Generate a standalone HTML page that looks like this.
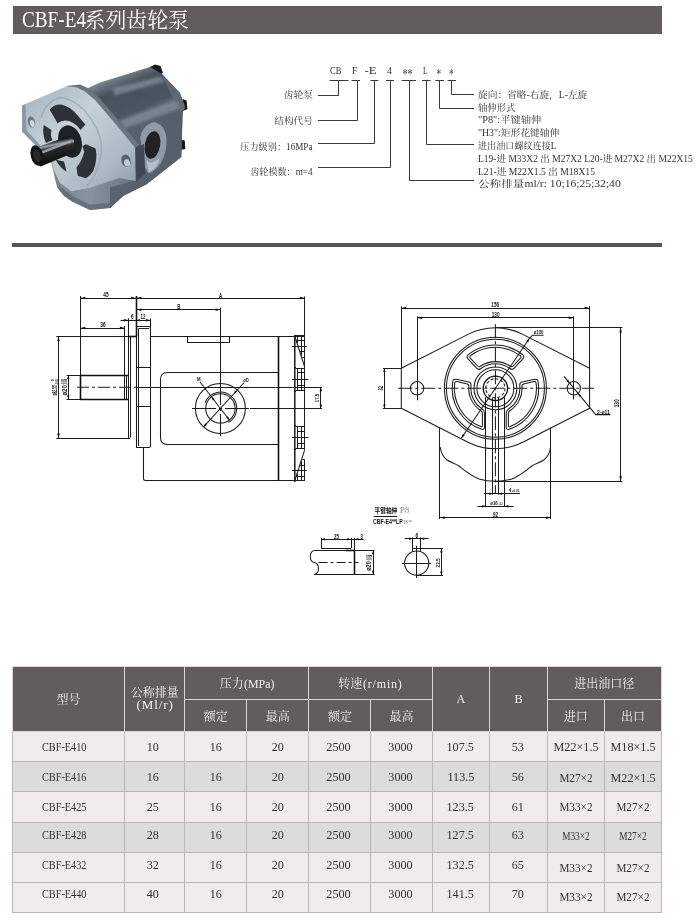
<!DOCTYPE html>
<html lang="zh-CN">
<head>
<meta charset="utf-8">
<title>CBF-E4系列齿轮泵</title>
<style>
html,body{margin:0;padding:0;background:#fff;}
body{width:700px;height:922px;position:relative;overflow:hidden;
  font-family:"Liberation Serif","Noto Serif CJK SC",serif;color:#333;}
.titlebar{position:absolute;left:13px;top:6px;width:649px;height:28px;background:#625d5c;}
.titlebar h1{will-change:transform;margin:0;position:absolute;left:9.4px;top:0.4px;height:28px;line-height:28px;
  font-size:20.9px;font-weight:normal;color:#fff;white-space:nowrap;transform-origin:0 50%;}
.titlebar h1 .la{display:inline-block;font-size:22.6px;line-height:28px;vertical-align:baseline;transform:scaleX(.85);transform-origin:0 50%;margin-right:-12.8px}
.sep{position:absolute;left:12px;top:243px;width:650px;height:4px;background:#5a5555;}
svg{position:absolute;left:0;top:0;will-change:transform;}
#callout text{font-family:"Liberation Serif","Noto Serif CJK SC",serif;}
#draw text{font-family:"Liberation Sans","Noto Sans CJK SC",sans-serif;}
#spec{will-change:transform;position:absolute;left:12px;top:666px;width:650px;border-collapse:collapse;table-layout:fixed;
  font-size:12px;color:#333;}
#spec th,#spec td{padding:0;text-align:center;vertical-align:middle;border:1px solid #b9b6b5;overflow:hidden;white-space:nowrap}
#spec th{background:#625d5c;color:#f2f0ef;font-weight:normal;border-color:#d9d6d5;}
#spec td{height:27.7px;background:#efeceb;}
#spec tr.g td{background:#dcdcdc;}
#spec .n{display:inline-block;font-size:13.5px;transform:translateY(var(--dy,0px)) scaleX(.9);}
#spec .m{display:inline-block;font-size:13.5px;transform:translateY(var(--dy,0px)) scaleX(.76);}
#spec .q{display:inline-block;font-size:13px;letter-spacing:.9px;margin-left:1px}
#spec .x{display:inline-block;font-size:13.5px;transform:translateY(var(--dx,0px)) scaleX(.9);}
#spec .x3{display:inline-block;font-size:13.5px;transform:translateY(var(--dx,0px)) scaleX(.83);}
#spec .x2{display:inline-block;font-size:13.5px;transform:translateY(var(--dx,0px)) scaleX(.69);}
#spec td{padding-top:1.5px}
#spec tbody tr:nth-child(2){--dy:-1.3px}
#spec tbody tr:nth-child(3){--dy:-1.4px;--dx:-.8px}
#spec tbody tr:nth-child(4){--dy:-2.6px;--dx:-1.7px}
#spec tbody tr:nth-child(5){--dy:-3.2px;--dx:.3px}
#spec tbody tr:nth-child(6){--dy:-4.2px;--dx:-1.3px}
#spec td:nth-child(1){padding-right:8px}
#spec td:nth-child(2),#spec td:nth-child(5),#spec td:nth-child(6){padding-right:3px}
#spec .p{display:inline-block;font-size:13px;transform:scaleX(.92);transform-origin:0 50%;margin-right:-3px}
</style>
</head>
<body>
<div class="titlebar"><h1><span class="la">CBF-E4</span>系列齿轮泵</h1></div>
<div class="sep"></div>


<svg id="photo" width="700" height="922" viewBox="0 0 700 922">
<defs>
<filter id="pb" x="-5%" y="-5%" width="110%" height="110%"><feGaussianBlur stdDeviation="0.75"/></filter>
<filter id="pb2" x="-20%" y="-20%" width="140%" height="140%"><feGaussianBlur stdDeviation="1.8"/></filter>
<linearGradient id="gBody" x1="0" y1="0" x2="0.3" y2="1">
<stop offset="0" stop-color="#6a7680"/><stop offset="0.13" stop-color="#7f8c97"/><stop offset="0.24" stop-color="#46505a"/><stop offset="0.42" stop-color="#4b555f"/><stop offset="0.5" stop-color="#75828d"/><stop offset="0.6" stop-color="#505a64"/><stop offset="1" stop-color="#545e68"/>
</linearGradient>
<linearGradient id="gFl" x1="0" y1="0" x2="1" y2="1">
<stop offset="0" stop-color="#a3b2bc"/><stop offset="0.4" stop-color="#c6d1d8"/><stop offset="0.75" stop-color="#aebbc4"/><stop offset="1" stop-color="#8f9da8"/>
</linearGradient>
<linearGradient id="gLow" x1="0" y1="0" x2="1" y2="0">
<stop offset="0" stop-color="#77838d"/><stop offset="0.45" stop-color="#87949e"/><stop offset="0.45" stop-color="#87949e"/><stop offset="1" stop-color="#66717b"/>
</linearGradient>
<linearGradient id="gSh" x1="0" y1="0" x2="0.28" y2="1">
<stop offset="0" stop-color="#0c0d10"/><stop offset="0.3" stop-color="#1b1d22"/><stop offset="0.41" stop-color="#9aa1a8"/><stop offset="0.5" stop-color="#2a2c31"/><stop offset="1" stop-color="#07080a"/>
</linearGradient>
</defs>
<g filter="url(#pb)">
<!-- rear bolt heads -->
<path d="M149 67.5 L155 64.5 L160.5 66 L163 73 L156 76 Z" fill="#15171b"/>
<path d="M182.5 99 L186.5 100.5 L187.5 109 L183 111 Z" fill="#15171b"/>
<path d="M180.5 139.5 L184.8 140.5 L185.3 149 L180.5 150 Z" fill="#15171b"/>
<!-- main body -->
<path d="M86 89 L100 82.5 L150 67 L161.5 73.5 L180 93 L185 107 L182.6 113 L181.3 157 L147 184 L123 196 L110 208 L100 180 Z" fill="url(#gBody)"/>
<path d="M112 88.5 L160 76.5 L166 81 L115 95.5 Z" fill="#93a0ab" opacity=".6" filter="url(#pb2)"/>
<path d="M161.5 73.5 L180 93 L185 107 L182.6 113 L176 104 L166 84 Z" fill="#5f6a74" opacity=".9"/>
<!-- port face -->
<path d="M118 124 L176 104.5 L182.6 113 L181.3 157 L147 184 L123 196 L110 208 Z" fill="#57616b"/>
<path d="M120 121.5 L176.5 101.5 L179.5 108 L124 128 Z" fill="#86939d" opacity="0"/>
<path d="M120 121 L176.5 101 L179.5 108 L124 128 Z" fill="#85929c" opacity="0"/>
<path d="M120 121 L176.5 101 L179.5 108.5 L124 128.5 Z" fill="#7f8c97" opacity=".8" filter="url(#pb2)"/>
<!-- port boss -->
<path d="M140.2 137.6 Q143 124 155 122 Q166 126 166.6 139 Q167 152 161.4 162 Q156 171 148.6 173.5 L144.7 167 Z" fill="#8e9ba5"/>
<ellipse cx="152.5" cy="145" rx="7.7" ry="14" fill="#202328" transform="rotate(10 152.5 145)"/>
<path d="M146.5 160 Q151 166 159.5 158 Q158 168 148.8 172.5 Z" fill="#b3c1ca"/>
<!-- lower body -->
<path d="M52 166 L57 187 L64 196 L72 201.5 L90 210 L110 208 L123 196 L136 186 L136 178 L119 177 L91 187 L71 191 Z" fill="url(#gLow)"/>
<path d="M110 187.5 L136 180 L136 186 L123 196 L110 208 Z" fill="#59636d"/>
<path d="M57 187 L64 196 L72 201.5 L90 210 L110 208 L110 203 L90 204.5 L74 197 L62 188 Z" fill="#5f6973" opacity=".8"/>
<!-- flange thickness side -->
<path d="M135 147.8 L144 144 L145.3 173.5 L135.7 182.5 Z" fill="#404953"/>
<!-- flange bevel (dark rim behind face) -->
<path d="M66 86 L80 84.6 L89 88.5 L98.5 97 L139 144.5 L135 148 L95 101 L85 92.5 L76 90 Z" fill="#687680"/>
<!-- flange face -->
<path d="M22 105.5 L66.5 86.3 L77 87.5 L85 91.5 L95.5 100.5 L116 124.5 L135.1 147.8 L135.7 181 L119 178 L91.4 187.5 L71 191 L60 183 L53.4 169.4 L50 160 L22 131.5 Z" fill="url(#gFl)"/>
<path d="M22 105.5 L25.5 104 L26.5 130 L50.5 157 L54 169.4 L50 160 L22 131.5 Z" fill="#8c9aa5"/>
<!-- boss ring shading -->
<path d="M41 118 Q46 101 60 97.5 Q72 98 84 110 Q100 128 101.5 146 Q101 170 87 186" fill="none" stroke="#94a3ad" stroke-width="1.4" opacity=".7"/>
<!-- ear holes -->
<ellipse cx="31.5" cy="122" rx="3.6" ry="5.6" fill="#6d7a84" transform="rotate(-15 31.5 122)"/>
<ellipse cx="32.3" cy="123.6" rx="2.2" ry="3.6" fill="#ccd6dc" transform="rotate(-15 32.3 123.6)"/>
<ellipse cx="126" cy="160.7" rx="4.6" ry="6.2" fill="#55616b" transform="rotate(-15 126 160.7)"/>
<ellipse cx="127" cy="162.8" rx="3" ry="3.8" fill="#bcc8d0" transform="rotate(-15 127 162.8)"/>
<!-- slots -->
<path d="M49.7 109.7 Q54 104 61 104.5 Q71 106.5 77.7 115.6 L85.4 124.6 L80.5 130 Q76 123.5 69 121 Q62 119.5 57.5 123.5 L55.6 119.8 Z" fill="#2d3238"/>
<path d="M43.7 125 L51.5 129.9 Q50 136 52.6 140 L46 143 Q42 134 43.7 125 Z" fill="#2b3036"/>
<path d="M55.6 159.7 L64 161.5 L66.5 171.5 Q61 169 55.6 159.7 Z" fill="#2b3036"/>
<path d="M86 144.2 L95.6 148.4 Q98 159 93.2 171 Q90 176 86 178.2 L77.7 175.8 L76.5 167.5 Q82 161 84.2 152 L82.4 146 Z" fill="#2d3238"/>
<!-- hub hole -->
<ellipse cx="70" cy="141.5" rx="11.5" ry="16.5" fill="#1d2025" transform="rotate(-16 70 141.5)"/>
<!-- shaft -->
<path d="M33.6 148.4 L69.5 135.7 L74 140 L74.5 152 L69.3 154.6 L40.7 166.5 L32 160 Z" fill="url(#gSh)"/>
<path d="M42 151 L70.5 140.3 L71 142.6 L42.6 153.6 Z" fill="#a4abb2" opacity=".9"/>
<ellipse cx="36.8" cy="155.5" rx="6" ry="10.5" fill="#111215" transform="rotate(-14 36.8 155.5)"/>
<ellipse cx="37" cy="155.8" rx="3.4" ry="7" fill="#26292e" transform="rotate(-14 37 155.8)"/>
</g>
</svg>

<svg id="callout" width="700" height="922" viewBox="0 0 700 922">
<g fill="none" stroke="#3a3a3a" stroke-width="1">
<path d="M329.5 80.5 L348.5 80.5"/>
<path d="M351.5 80.5 L360 80.5"/>
<path d="M370.5 80.5 L378.5 80.5"/>
<path d="M386 80.5 L394 80.5"/>
<path d="M401.5 80.5 L416 80.5"/>
<path d="M422 80.5 L430.5 80.5"/>
<path d="M435.5 80.5 L444 80.5"/>
<path d="M447.5 80.5 L456 80.5"/>
<path d="M338.5 80.5 L338.5 95.5 L318 95.5"/>
<path d="M357.5 80.5 L357.5 120.5 L318 120.5"/>
<path d="M374.5 80.5 L374.5 143.5 L318 143.5"/>
<path d="M390.5 80.5 L390.5 167.5 L318 167.5"/>
<path d="M451.5 80.5 L451.5 94.5 L474 94.5"/>
<path d="M439.5 80.5 L439.5 108.5 L474 108.5"/>
<path d="M426.5 80.5 L426.5 144.5 L474 144.5"/>
<path d="M409.5 80.5 L409.5 180.5 L474 180.5"/>
</g>
<g fill="#333" xml:space="preserve">
<text x="330" y="74.488" font-size="10.8" textLength="11.4" lengthAdjust="spacingAndGlyphs">CB</text>
<text x="352" y="74.488" font-size="10.8" textLength="5.5" lengthAdjust="spacingAndGlyphs">F</text>
<text x="364.5" y="74.488" font-size="10.8" textLength="12.2" lengthAdjust="spacingAndGlyphs">-E</text>
<text x="387" y="74.488" font-size="10.8" textLength="5" lengthAdjust="spacingAndGlyphs">4</text>
<text x="423" y="74.488" font-size="10.8" textLength="4.6" lengthAdjust="spacingAndGlyphs">L</text>
<text x="402.5" y="78.84" font-size="14" textLength="10.1" lengthAdjust="spacingAndGlyphs">**</text>
<text x="436.4" y="78.84" font-size="14" textLength="4.6" lengthAdjust="spacingAndGlyphs">*</text>
<text x="449" y="78.84" font-size="14" textLength="4.5" lengthAdjust="spacingAndGlyphs">*</text>
<text x="283.7" y="98.12" font-size="9.5" textLength="29.3" lengthAdjust="spacingAndGlyphs">齿轮泵</text>
<text x="274.2" y="123.72" font-size="9.5" textLength="38.8" lengthAdjust="spacingAndGlyphs">结构代号</text>
<text x="240.3" y="149.52" font-size="9.5" textLength="72.2" lengthAdjust="spacingAndGlyphs">压力级别：16MPa</text>
<text x="250.2" y="175.02" font-size="9.5" textLength="62.3" lengthAdjust="spacingAndGlyphs">齿轮模数：m=4</text>
<text x="478" y="97.72" font-size="9.5" textLength="109.3" lengthAdjust="spacingAndGlyphs">旋向：省略-右旋，L-左旋</text>
<text x="478" y="110.52" font-size="9.5" textLength="37.5" lengthAdjust="spacingAndGlyphs">轴伸形式</text>
<text x="478" y="123.32" font-size="9.5" textLength="63.4" lengthAdjust="spacingAndGlyphs">"P8":平键轴伸</text>
<text x="478" y="136.12" font-size="9.5" textLength="81.4" lengthAdjust="spacingAndGlyphs">"H3":矩形花键轴伸</text>
<text x="478" y="148.92" font-size="9.5" textLength="78.4" lengthAdjust="spacingAndGlyphs">进出油口螺纹连接L</text>
<text x="478" y="161.72" font-size="9.5" textLength="214.8" lengthAdjust="spacingAndGlyphs">L19-进 M33X2 出 M27X2  L20-进 M27X2 出 M22X15</text>
<text x="478" y="174.52" font-size="9.5" textLength="117" lengthAdjust="spacingAndGlyphs">L21-进 M22X1.5 出 M18X15</text>
<text x="478" y="187.32" font-size="9.5" textLength="142.7" lengthAdjust="spacingAndGlyphs">公称排量ml/r: 10;16;25;32;40</text>
</g>
</svg>

<svg id="draw" width="700" height="922" viewBox="0 0 700 922">
<g fill="none" stroke="#1c1c1c" stroke-width="1.05" stroke-linecap="butt" stroke-linejoin="round">
<path d="M80.3 298.5 L304.9 298.5"/>
<path d="M80.5 296.0 L80.5 375.4"/>
<path d="M304.5 296.5 L304.5 336.3"/>
<path d="M136.0 309.5 L220.6 309.5"/>
<path d="M220.5 307.7 L220.5 383.0"/>
<path d="M120.6 320.5 L150.8 320.5"/>
<path d="M128.5 318.4 L128.5 336.4"/>
<path d="M150.5 318.4 L150.5 328.0"/>
<path d="M80.3 328.5 L124.9 328.5"/>
<path d="M124.5 326.0 L124.5 375.4"/>
<path d="M58.5 336.2 L58.5 438.4"/>
<path d="M56.3 336.5 L129.0 336.5"/>
<path d="M56.3 438.5 L130.0 438.5"/>
<path d="M68.5 375.4 L68.5 399.1"/>
<path d="M66.6 375.5 L81.0 375.5"/>
<path d="M66.6 399.5 L81.0 399.5"/>
<path d="M124.5 375.4 L124.5 399.1"/>
<path d="M126.5 375.4 L126.5 399.1"/>
<path d="M136.0 387.5 L322.0 387.5"/>
<path d="M128.5 336.3 L128.5 438.4"/>
<path d="M130.5 337.0 L130.5 437.5"/>
<path d="M136.5 326.5 L149 326.5 Q150.5 326.5 150.5 328 L150.5 446 Q150.5 447.5 149 447.5 L136.5 447.5 Z"/>
<path d="M138.5 328.5 L149.0 328.5"/>
<path d="M136.5 367.5 L150.5 367.5"/>
<path d="M136.5 406.5 L150.5 406.5"/>
<path d="M138.5 328.5 L138.5 446.0"/>
<path d="M150.8 336.5 L294.2 336.5"/>
<path d="M143.5 447.5 L143.5 478.5 Q143.5 480.5 145.5 480.5 L294.5 480.5"/>
<path d="M187.5 336.5 L187.5 342.5 L229.5 342.5 L229.5 336.5"/>
<path d="M278.5 372.5 L167.5 372.5 Q160.5 372.5 160.5 379.5 L160.5 437.5 Q160.5 444.5 167.5 444.5 L278.5 444.5"/>
<circle cx="220.4" cy="408.4" r="25.0"/>
<circle cx="220.4" cy="408.4" r="14.7"/>
<path d="M205.1 402.8 A16.3 16.3 0 1 1 228.6 422.5"/>
<path d="M250.0 408.5 L322.0 408.5"/>
<path d="M199.8 381.8 L229.4 420.0"/>
<path d="M244.2 382.5 L203.5 426.8"/>
<path d="M294.8 482 L294.8 335" stroke-width="1.5"/>
<path d="M304.5 336.4 L304.5 450.3"/>
<path d="M304.5 459.7 L304.5 481.0"/>
<path d="M294.2 336.5 L304.5 336.5"/>
<path d="M295.5 368.5 L304.5 368.5"/>
<path d="M295.5 390.5 L304.5 390.5"/>
<path d="M297.7 372.5 L304.5 372.5"/>
<path d="M297.7 385.5 L304.5 385.5"/>
<path d="M297.5 368.0 L297.5 390.6"/>
<path d="M301.5 368.0 L301.5 390.6"/>
<path d="M291.8 379.5 L308.4 379.5"/>
<path d="M294.5 367.5 L296.0 367.5"/>
<path d="M294.5 391.5 L296.0 391.5"/>
<path d="M295.5 426.5 L304.5 426.5"/>
<path d="M295.5 448.5 L304.5 448.5"/>
<path d="M297.7 431.5 L304.5 431.5"/>
<path d="M297.7 443.5 L304.5 443.5"/>
<path d="M297.5 426.2 L297.5 448.8"/>
<path d="M301.5 426.2 L301.5 448.8"/>
<path d="M291.8 437.5 L308.4 437.5"/>
<path d="M294.5 425.5 L296.0 425.5"/>
<path d="M294.5 449.5 L296.0 449.5"/>
<path d="M304.5 450.3 L294.9 480.3"/>
<path d="M299.7 465.5 L304.5 465.5"/>
<path d="M296.3 476.5 L304.5 476.5"/>
<path d="M294.7 480.5 L304.5 480.5"/>
<path d="M302.3 459.5 L304.5 459.5"/>
<path d="M301.5 461.0 L301.5 481.0"/>
<path d="M297.5 473.5 L297.5 481.0"/>
<path d="M292.0 470.5 L306.6 470.5"/>
<path d="M304.5 366.5 L294.9 336.5"/>
<path d="M299.7 351.5 L304.5 351.5"/>
<path d="M296.3 340.5 L304.5 340.5"/>
<path d="M294.7 335.5 L304.5 335.5"/>
<path d="M302.3 357.5 L304.5 357.5"/>
<path d="M301.5 355.8 L301.5 335.8"/>
<path d="M297.5 343.3 L297.5 335.8"/>
<path d="M292.0 346.5 L306.6 346.5"/>
<path d="M320.5 387.2 L320.5 408.4"/>
<path d="M401.3 368.3 L468.0 334.4 A60.5 60.5 0 0 1 522.8 334.4 L589.6 368.3 L589.6 408.3 L522.8 442.2 A60.5 60.5 0 0 1 468.0 442.2 L401.3 408.3 Z"/>
<circle cx="495.4" cy="388.3" r="51.0"/>
<circle cx="495.4" cy="388.3" r="49.0"/>
<circle cx="495.4" cy="388.3" r="21.4"/>
<circle cx="495.4" cy="388.3" r="18.5"/>
<circle cx="417.1" cy="388.3" r="6.7"/>
<circle cx="573.8" cy="388.3" r="6.7"/>
<path d="M522.6 354.7 A43.2 43.2 0 0 0 468.2 354.7 Q465.9 356.7 468.0 358.9 L476.6 368.2 Q478.7 370.4 481.0 368.5 A24.5 24.5 0 0 1 509.8 368.5 Q512.1 370.4 514.2 368.2 L522.8 358.9 Q524.9 356.7 522.6 354.7 Z"/>
<path d="M452.7 381.5 A43.2 43.2 0 0 0 481.7 429.3 Q484.6 430.1 484.6 427.1 L484.6 413.3 Q484.6 410.3 482.0 408.8 A24.5 24.5 0 0 1 471.0 385.7 Q471.5 382.8 468.6 382.1 L456.2 379.3 Q453.3 378.6 452.7 381.5 Z"/>
<path d="M509.1 429.3 A43.2 43.2 0 0 0 538.1 381.5 Q537.5 378.6 534.6 379.3 L522.2 382.1 Q519.3 382.8 519.8 385.7 A24.5 24.5 0 0 1 508.8 408.8 Q506.2 410.3 506.2 413.3 L506.2 427.1 Q506.2 430.1 509.1 429.3 Z"/>
<path d="M520.3 355.7 A41 41 0 0 0 470.5 355.7 Q469.1 356.9 470.3 358.2 L477.6 366.0 Q478.9 367.3 480.3 366.3 A26.7 26.7 0 0 1 510.5 366.3 Q511.9 367.3 513.2 366.0 L520.5 358.2 Q521.7 356.9 520.3 355.7 Z"/>
<path d="M454.7 383.0 A41 41 0 0 0 480.7 426.6 Q482.4 427.2 482.4 425.4 L482.4 413.4 Q482.4 411.6 480.9 410.7 A26.7 26.7 0 0 1 468.8 386.2 Q469.0 384.5 467.2 384.1 L456.8 381.6 Q455.0 381.2 454.7 383.0 Z"/>
<path d="M510.1 426.6 A41 41 0 0 0 536.1 383.0 Q535.8 381.2 534.0 381.6 L523.6 384.1 Q521.8 384.5 522.0 386.2 A26.7 26.7 0 0 1 509.9 410.7 Q508.4 411.6 508.4 413.4 L508.4 425.4 Q508.4 427.2 510.1 426.6 Z"/>
<path d="M485.5 397.3 L485.5 507.0"/>
<path d="M504.5 397.3 L504.5 507.0"/>
<path d="M492.5 398.0 L492.5 494.7"/>
<path d="M498.5 398.0 L498.5 494.7"/>
<path d="M401.3 308.5 L589.6 308.5"/>
<path d="M401.5 306.3 L401.5 368.3"/>
<path d="M589.5 306.3 L589.5 368.3"/>
<path d="M417.2 317.5 L573.7 317.5"/>
<path d="M417.5 316.3 L417.5 400.3"/>
<path d="M573.5 316.3 L573.5 399.5"/>
<path d="M495.4 327.5 L622.3 327.5"/>
<path d="M495.4 481.5 L622.3 481.5"/>
<path d="M620.5 327.4 L620.5 481.3"/>
<path d="M382.9 368.5 L401.3 368.5"/>
<path d="M382.9 408.5 L401.3 408.5"/>
<path d="M384.5 368.3 L384.5 408.3"/>
<path d="M564.0 376.3 L595.7 414.6 L610.3 414.6"/>
<path d="M461.3 438.3 L529.5 338.3 L532.6 335.2 L543.6 335.2"/>
<path d="M439.5 427.8 L439.5 519.0"/>
<path d="M550.5 427.8 L550.5 519.0"/>
<path d="M440.2 447.0 C441.0 453.0 443.0 457.0 447.0 460.0 C451.0 462.5 455.0 463.5 459.0 466.0 C464.0 470.0 470.0 475.5 479.0 479.0 C485.0 480.8 490.0 481.3 495.4 481.3"/>
<path d="M550.6 447.0 C549.8 453.0 547.8 457.0 543.8 460.0 C539.8 462.5 535.8 463.5 531.8 466.0 C526.8 470.0 520.8 475.5 511.8 479.0 C505.8 480.8 500.8 481.3 495.4 481.3"/>
<path d="M439.8 517.5 L551.0 517.5"/>
<path d="M477.4 506.5 L513.6 506.5"/>
<path d="M483.9 493.5 L520.0 493.5"/>
<path d="M373.6 516.5 L397.2 516.5"/>
<path d="M321.1 539.5 L363.6 539.5"/>
<path d="M321.5 537.9 L321.5 548.2"/>
<path d="M351.5 537.9 L351.5 548.2"/>
<path d="M354.5 537.9 L354.5 550.4"/>
<path d="M321.1 548.5 L351.1 548.5"/>
<path d="M314.3 550.5 L355.0 550.5"/>
<path d="M314.3 574.5 L355.0 574.5"/>
<path d="M314.3 550.4 C309 551.5 309 561.5 314.3 562.5 C319.8 563.5 319.8 573.5 314.3 574.6"/>
<path d="M355.0 550.5 L374.6 550.5"/>
<path d="M355.0 574.5 L374.6 574.5"/>
<path d="M373.5 550.4 L373.5 574.6"/>
<circle cx="416.7" cy="563.1" r="12.1"/>
<path d="M412.5 537.4 L412.5 552.0"/>
<path d="M420.5 537.4 L420.5 552.0"/>
<path d="M412.6 548.5 L442.9 548.5"/>
<path d="M404.6 538.5 L428.6 538.5"/>
<path d="M441.5 548.6 L441.5 575.3"/>
<path d="M416.7 575.5 L443.0 575.5"/>
<path d="M402.1 563.5 L431.0 563.5"/>
<path d="M416.5 545.7 L416.5 578.0"/>
<path d="M77.0 387.2 L136.0 387.2" stroke-dasharray="12 3 3 3"/>
<path d="M192.0 408.4 L250.0 408.4" stroke-dasharray="24 3 3 3"/>
<path d="M220.5 383.0 L220.5 436.5" stroke-dasharray="22 3 3 3"/>
<circle cx="495.4" cy="388.3" r="9.6" stroke-dasharray="3 2" stroke-width="1.1"/>
<path d="M398.3 388.3 L594.0 388.3" stroke-dasharray="14 3 3 3"/>
<path d="M495.4 324.3 L495.4 494.0" stroke-dasharray="14 3 3 3"/>
<path d="M318.6 562.5 L358.6 562.5" stroke-dasharray="9 3 3 3"/>
</g>
<g fill="none" stroke="#111" stroke-width="1.6" stroke-linejoin="round">
<path d="M136.5 296.0 L136.5 336.4"/>
<path d="M128.5 375.5 L80.5 375.5 L80.5 399.5 L128.5 399.5"/>
<path d="M128.8 336.5 L136.0 336.5"/>
<path d="M278.5 336.4 L278.5 480.3"/>
<circle cx="495.4" cy="388.3" r="12.2" stroke-width="1.3"/>
<path d="M345.7 550.5 L355.0 550.5"/>
<path d="M354.5 550.4 L354.5 574.6"/>
</g>
<g fill="#111" stroke="none">
<path d="M80.3 298.0 L85.3 296.8 L85.3 299.2 Z"/>
<path d="M136.0 298.0 L131.0 299.2 L131.0 296.8 Z"/>
<path d="M136.4 298.0 L141.4 296.8 L141.4 299.2 Z"/>
<path d="M304.9 298.0 L299.9 299.2 L299.9 296.8 Z"/>
<path d="M136.4 309.6 L141.4 308.4 L141.4 310.9 Z"/>
<path d="M220.6 309.6 L215.6 310.9 L215.6 308.4 Z"/>
<path d="M128.8 320.2 L123.8 321.4 L123.8 318.9 Z"/>
<path d="M136.4 320.2 L139.9 318.9 L139.9 321.4 Z"/>
<path d="M150.8 320.2 L145.8 321.4 L145.8 318.9 Z"/>
<path d="M80.3 328.0 L85.3 326.8 L85.3 329.2 Z"/>
<path d="M124.9 328.0 L119.9 329.2 L119.9 326.8 Z"/>
<path d="M58.5 336.2 L59.8 341.2 L57.2 341.2 Z"/>
<path d="M58.5 438.4 L57.2 433.4 L59.8 433.4 Z"/>
<path d="M68.3 375.4 L69.5 378.9 L67.0 378.9 Z"/>
<path d="M68.3 399.1 L67.0 395.6 L69.5 395.6 Z"/>
<path d="M229.4 420.0 L226.1 417.8 L228.0 416.2 Z"/>
<path d="M211.4 396.8 L214.7 399.0 L212.8 400.6 Z"/>
<path d="M203.5 426.8 L205.1 423.2 L207.0 424.9 Z"/>
<path d="M237.3 390.0 L235.7 393.6 L233.8 391.9 Z"/>
<path d="M320.8 387.2 L322.1 391.2 L319.6 391.2 Z"/>
<path d="M320.8 408.4 L319.6 404.4 L322.1 404.4 Z"/>
<path d="M401.3 308.0 L406.3 306.8 L406.3 309.2 Z"/>
<path d="M589.6 308.0 L584.6 309.2 L584.6 306.8 Z"/>
<path d="M417.2 317.9 L422.2 316.6 L422.2 319.1 Z"/>
<path d="M573.7 317.9 L568.7 319.1 L568.7 316.6 Z"/>
<path d="M620.6 327.4 L621.9 332.4 L619.4 332.4 Z"/>
<path d="M620.6 481.3 L619.4 476.3 L621.9 476.3 Z"/>
<path d="M384.4 368.3 L385.6 372.1 L383.1 372.1 Z"/>
<path d="M384.4 408.3 L383.1 404.5 L385.6 404.5 Z"/>
<path d="M569.5 383.1 L566.3 381.2 L568.2 379.6 Z"/>
<path d="M578.1 393.5 L581.3 395.4 L579.4 397.0 Z"/>
<path d="M529.5 338.3 L528.2 342.5 L526.1 341.1 Z"/>
<path d="M461.3 438.3 L462.6 434.1 L464.7 435.5 Z"/>
<path d="M439.8 517.6 L444.8 516.4 L444.8 518.9 Z"/>
<path d="M551.0 517.6 L546.0 518.9 L546.0 516.4 Z"/>
<path d="M485.9 506.2 L482.3 507.4 L482.3 504.9 Z"/>
<path d="M504.8 506.2 L508.4 504.9 L508.4 507.4 Z"/>
<path d="M492.7 493.8 L489.1 495.1 L489.1 492.6 Z"/>
<path d="M498.3 493.8 L501.9 492.6 L501.9 495.1 Z"/>
<path d="M321.1 539.3 L324.9 538.0 L324.9 540.5 Z"/>
<path d="M351.1 539.3 L347.3 540.5 L347.3 538.0 Z"/>
<path d="M355.2 539.3 L358.4 538.0 L358.4 540.5 Z"/>
<path d="M373.1 550.4 L374.4 554.2 L371.9 554.2 Z"/>
<path d="M373.1 574.6 L371.9 570.8 L374.4 570.8 Z"/>
<path d="M412.6 538.6 L409.0 539.9 L409.0 537.4 Z"/>
<path d="M420.7 538.6 L424.3 537.4 L424.3 539.9 Z"/>
<path d="M441.4 548.6 L442.6 552.4 L440.1 552.4 Z"/>
<path d="M441.4 575.3 L440.1 571.5 L442.6 571.5 Z"/>
</g>
<g fill="#151515" style="font-family:'Liberation Sans','Noto Sans CJK SC',sans-serif">
<text x="106.0" y="297.1" font-size="7" text-anchor="middle" textLength="5.3" lengthAdjust="spacingAndGlyphs" font-weight="bold">45</text>
<text x="220.5" y="297.5" font-size="7" text-anchor="middle" textLength="3.2" lengthAdjust="spacingAndGlyphs" font-weight="bold">A</text>
<text x="178.8" y="308.5" font-size="7" text-anchor="middle" textLength="3.2" lengthAdjust="spacingAndGlyphs" font-weight="bold">B</text>
<text x="132.4" y="319.3" font-size="7" text-anchor="middle" textLength="2.6" lengthAdjust="spacingAndGlyphs" font-weight="bold">6</text>
<text x="143.0" y="319.3" font-size="7" text-anchor="middle" textLength="5.0" lengthAdjust="spacingAndGlyphs" font-weight="bold">12</text>
<text x="103.0" y="326.9" font-size="7" text-anchor="middle" textLength="5.4" lengthAdjust="spacingAndGlyphs" font-weight="bold">36</text>
<text x="54.6" y="393.1" font-size="7.5" text-anchor="middle" textLength="10.4" lengthAdjust="spacingAndGlyphs" transform="rotate(-90 54.6 390.4)" font-weight="bold">ø82.55</text>
<text x="52.9" y="381.6" font-size="4" text-anchor="middle" textLength="2.0" lengthAdjust="spacingAndGlyphs" transform="rotate(-90 52.9 380.2)" font-weight="bold">0</text>
<text x="56.3" y="383.3" font-size="4" text-anchor="middle" textLength="5.8" lengthAdjust="spacingAndGlyphs" transform="rotate(-90 56.3 381.9)" font-weight="bold">-0.05</text>
<text x="64.1" y="393.1" font-size="7.5" text-anchor="middle" textLength="10.4" lengthAdjust="spacingAndGlyphs" transform="rotate(-90 64.1 390.4)" font-weight="bold">ø20</text>
<text x="62.4" y="383.3" font-size="4" text-anchor="middle" textLength="5.8" lengthAdjust="spacingAndGlyphs" transform="rotate(-90 62.4 381.9)" font-weight="bold">-0.02</text>
<text x="65.8" y="383.3" font-size="4" text-anchor="middle" textLength="5.8" lengthAdjust="spacingAndGlyphs" transform="rotate(-90 65.8 381.9)" font-weight="bold">-0.04</text>
<text x="198.7" y="381.2" font-size="6" text-anchor="middle" textLength="3.6" lengthAdjust="spacingAndGlyphs" font-weight="bold">M</text>
<text x="246.0" y="381.7" font-size="6" text-anchor="middle" textLength="5.5" lengthAdjust="spacingAndGlyphs" font-weight="bold">øD</text>
<text x="317.2" y="400.2" font-size="6" text-anchor="middle" textLength="8.5" lengthAdjust="spacingAndGlyphs" transform="rotate(-90 317.2 398.0)" font-weight="bold">17.5</text>
<text x="495.2" y="307.1" font-size="7" text-anchor="middle" textLength="7.8" lengthAdjust="spacingAndGlyphs" font-weight="bold">156</text>
<text x="495.6" y="317.1" font-size="7" text-anchor="middle" textLength="7.8" lengthAdjust="spacingAndGlyphs" font-weight="bold">130</text>
<text x="617.0" y="405.9" font-size="7" text-anchor="middle" textLength="7.8" lengthAdjust="spacingAndGlyphs" transform="rotate(-90 617.0 403.4)" font-weight="bold">130</text>
<text x="380.7" y="390.8" font-size="7" text-anchor="middle" textLength="4.6" lengthAdjust="spacingAndGlyphs" transform="rotate(-90 380.7 388.3)" font-weight="bold">32</text>
<text x="603.4" y="413.8" font-size="6" text-anchor="middle" textLength="13.0" lengthAdjust="spacingAndGlyphs" font-weight="bold">2-ø11</text>
<text x="538.6" y="334.4" font-size="6" text-anchor="middle" textLength="9.6" lengthAdjust="spacingAndGlyphs" font-weight="bold">ø100</text>
<text x="495.4" y="516.9" font-size="7" text-anchor="middle" textLength="5.0" lengthAdjust="spacingAndGlyphs" font-weight="bold">92</text>
<text x="494.0" y="505.2" font-size="5.5" text-anchor="middle" textLength="7.5" lengthAdjust="spacingAndGlyphs" font-weight="bold">ø16</text>
<text x="500.6" y="504.5" font-size="3.5" text-anchor="middle" textLength="4.0" lengthAdjust="spacingAndGlyphs" font-weight="bold">+0.2</text>
<text x="510.0" y="492.3" font-size="5.5" text-anchor="middle" textLength="2.6" lengthAdjust="spacingAndGlyphs" font-weight="bold">4</text>
<text x="515.6" y="491.7" font-size="3.8" text-anchor="middle" textLength="7.5" lengthAdjust="spacingAndGlyphs" font-weight="bold">+0.03</text>
<text x="385.9" y="512.9" font-size="6.5" text-anchor="middle" textLength="22.6" lengthAdjust="spacingAndGlyphs" font-weight="bold">平键轴伸</text>
<text x="399.8" y="513.2" font-size="7.5" fill="#7f89a3" style="font-family:'Liberation Serif',serif" textLength="9.5" lengthAdjust="spacingAndGlyphs">P8</text>
<text x="387.9" y="523.7" font-size="7" text-anchor="middle" textLength="30.0" lengthAdjust="spacingAndGlyphs" font-weight="bold">CBF-E4**LP</text>
<text x="403.6" y="523.6" font-size="7" fill="#7f89a3" style="font-family:'Liberation Serif',serif" textLength="9" lengthAdjust="spacingAndGlyphs">8*</text>
<text x="336.4" y="539.0" font-size="7" text-anchor="middle" textLength="5.0" lengthAdjust="spacingAndGlyphs" font-weight="bold">25</text>
<text x="361.8" y="538.8" font-size="7" text-anchor="middle" textLength="2.4" lengthAdjust="spacingAndGlyphs" font-weight="bold">3</text>
<text x="368.9" y="568.5" font-size="7" text-anchor="middle" textLength="9.6" lengthAdjust="spacingAndGlyphs" transform="rotate(-90 368.9 566.0)" font-weight="bold">ø20</text>
<text x="367.3" y="559.0" font-size="4" text-anchor="middle" textLength="5.8" lengthAdjust="spacingAndGlyphs" transform="rotate(-90 367.3 557.6)" font-weight="bold">-0.02</text>
<text x="370.6" y="559.0" font-size="4" text-anchor="middle" textLength="5.8" lengthAdjust="spacingAndGlyphs" transform="rotate(-90 370.6 557.6)" font-weight="bold">-0.04</text>
<text x="416.7" y="537.5" font-size="7" text-anchor="middle" textLength="2.6" lengthAdjust="spacingAndGlyphs" font-weight="bold">6</text>
<text x="437.8" y="565.1" font-size="6" text-anchor="middle" textLength="9.0" lengthAdjust="spacingAndGlyphs" transform="rotate(-90 437.8 562.9)" font-weight="bold">22.5</text>
</g>
</svg>

<table id="spec">
<colgroup><col style="width:112px"><col style="width:60px"><col style="width:62px"><col style="width:62px"><col style="width:62px"><col style="width:61px"><col style="width:57px"><col style="width:58px"><col style="width:57px"><col style="width:57px"></colgroup>
<thead>
<tr style="height:33px"><th rowspan="2">型号</th><th rowspan="2" style="line-height:12px">公称排量<br><span class="q">(Ml/r)</span></th><th colspan="2">压力<span class="p">(MPa)</span></th><th colspan="2">转速<span class="p" style="letter-spacing:.9px;margin-left:.5px">(r/min)</span></th><th rowspan="2"><span class="n">A</span></th><th rowspan="2"><span class="n">B</span></th><th colspan="2">进出油口径</th></tr>
<tr style="height:32px"><th>额定</th><th>最高</th><th>额定</th><th>最高</th><th>进口</th><th>出口</th></tr>
</thead>
<tbody>
<tr><td><span class="m">CBF-E410</span></td><td><span class="n">10</span></td><td><span class="n">16</span></td><td><span class="n">20</span></td><td><span class="n">2500</span></td><td><span class="n">3000</span></td><td><span class="n">107.5</span></td><td><span class="n">53</span></td><td><span class="x">M22×1.5</span></td><td><span class="x">M18×1.5</span></td></tr>
<tr class="g"><td><span class="m">CBF-E416</span></td><td><span class="n">16</span></td><td><span class="n">16</span></td><td><span class="n">20</span></td><td><span class="n">2500</span></td><td><span class="n">3000</span></td><td><span class="n">113.5</span></td><td><span class="n">56</span></td><td><span class="x3">M27×2</span></td><td><span class="x">M22×1.5</span></td></tr>
<tr><td><span class="m">CBF-E425</span></td><td><span class="n">25</span></td><td><span class="n">16</span></td><td><span class="n">20</span></td><td><span class="n">2500</span></td><td><span class="n">3000</span></td><td><span class="n">123.5</span></td><td><span class="n">61</span></td><td><span class="x3">M33×2</span></td><td><span class="x3">M27×2</span></td></tr>
<tr class="g"><td><span class="m">CBF-E428</span></td><td><span class="n">28</span></td><td><span class="n">16</span></td><td><span class="n">20</span></td><td><span class="n">2500</span></td><td><span class="n">3000</span></td><td><span class="n">127.5</span></td><td><span class="n">63</span></td><td><span class="x2">M33×2</span></td><td><span class="x2">M27×2</span></td></tr>
<tr><td><span class="m">CBF-E432</span></td><td><span class="n">32</span></td><td><span class="n">16</span></td><td><span class="n">20</span></td><td><span class="n">2500</span></td><td><span class="n">3000</span></td><td><span class="n">132.5</span></td><td><span class="n">65</span></td><td><span class="x3">M33×2</span></td><td><span class="x3">M27×2</span></td></tr>
<tr><td><span class="m">CBF-E440</span></td><td><span class="n">40</span></td><td><span class="n">16</span></td><td><span class="n">20</span></td><td><span class="n">2500</span></td><td><span class="n">3000</span></td><td><span class="n">141.5</span></td><td><span class="n">70</span></td><td><span class="x3">M33×2</span></td><td><span class="x3">M27×2</span></td></tr>
</tbody>
</table>
</body>
</html>
